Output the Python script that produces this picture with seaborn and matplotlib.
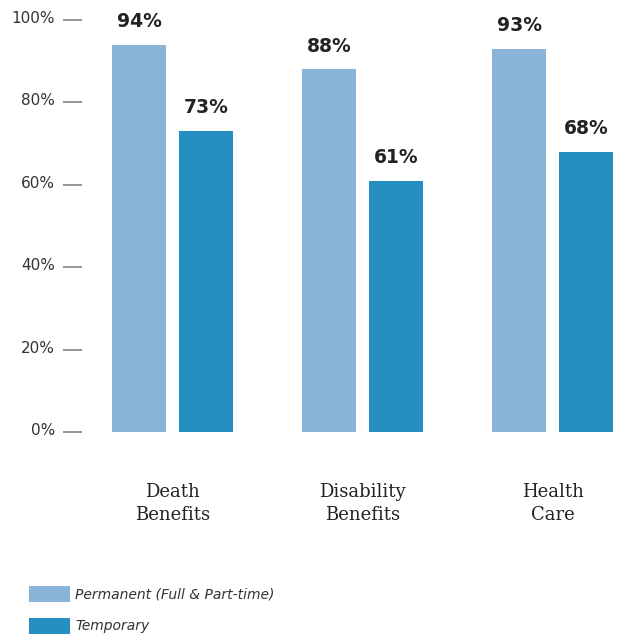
import matplotlib
matplotlib.use("Agg")
import matplotlib.pyplot as plt
import matplotlib.transforms as mtrans
import seaborn as sns
import pandas as pd

categories = ["Death\nBenefits", "Disability\nBenefits", "Health\nCare"]
series_names = ["Permanent (Full & Part-time)", "Temporary"]
permanent = [94, 88, 93]
temporary = [73, 61, 68]
yticks = [0, 20, 40, 60, 80, 100]
ytick_labels = ["0%", "20%", "40%", "60%", "80%", "100%"]
colors = ["#8AB4D7", "#268FC2"]

df = pd.DataFrame({
    "category": categories * 2,
    "series": [series_names[0]] * 3 + [series_names[1]] * 3,
    "value": permanent + temporary,
})

sns.set_theme(style="white")
plt.rcParams["font.family"] = ["DejaVu Sans"]

W, H = 618, 637
fig = plt.figure(figsize=(W / 100, H / 100), dpi=100)
ax = fig.add_axes([82 / W, (H - 432) / H, (W - 82) / W, 412 / H])

sns.barplot(data=df, x="category", y="value", hue="series", order=categories,
            hue_order=series_names, palette=colors, width=0.705, gap=0.194,
            saturation=1, linewidth=0, ax=ax, legend=True)

ax.set_xlim(-(172.5 - 82) / 190, 2 + (618 - 552.5) / 190)
ax.set_ylim(0, 100)
for s in ax.spines.values():
    s.set_visible(False)

ax.set_yticks(yticks)
ax.set_yticklabels(ytick_labels, fontsize=11, color="#333333")
ax.tick_params(axis="y", length=13.7, width=1.1, color="#777777", pad=5.8, left=True)
off = mtrans.ScaledTranslation(0, 3 / 100, fig.dpi_scale_trans)
for lab in ax.get_yticklabels():
    lab.set_transform(lab.get_transform() + off)

ax.set_xlabel("")
ax.set_ylabel("")
ax.tick_params(axis="x", length=0, pad=37)
ax.set_xticks(range(len(categories)))
ax.set_xticklabels(categories, fontsize=13, family="DejaVu Serif", color="#222222",
                   linespacing=1.35, va="top")

for cont in ax.containers:
    for bar in cont:
        h = bar.get_height()
        ax.annotate(f"{int(round(h))}%", (bar.get_x() + bar.get_width() / 2, h),
                    xytext=(0, 10), textcoords="offset points", ha="center",
                    va="bottom", fontsize=13.5, fontweight="bold", color="#222222",
                    annotation_clip=False)

handles, labels = ax.get_legend_handles_labels()
ax.get_legend().remove()
fig.legend(handles, labels, loc="upper left", bbox_to_anchor=(16 / W, (H - 573) / H),
           frameon=False, handlelength=3.0, handleheight=1.4, handletextpad=0.35,
           labelspacing=1.15, prop={"size": 10, "style": "italic"}, labelcolor="#333333")

fig.savefig("out.png", dpi=100)
